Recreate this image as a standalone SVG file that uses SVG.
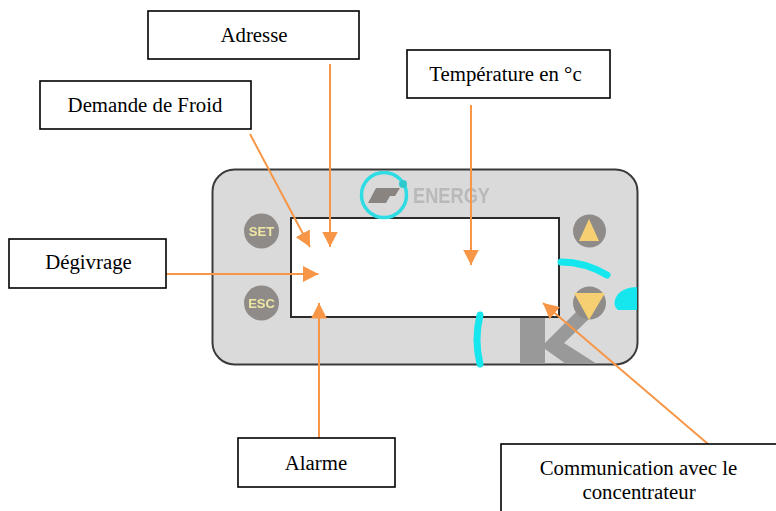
<svg xmlns="http://www.w3.org/2000/svg" width="776" height="511" viewBox="0 0 776 511">
<style>
.box{fill:#fff;stroke:#000;stroke-width:1.6}
.t{font-family:"Liberation Serif",serif;font-size:20.8px;fill:#000;text-anchor:middle}
.c{fill:none;stroke:#f79646;stroke-width:2}
.cy{fill:none;stroke:#19e6ee;stroke-width:7;stroke-linecap:round}
.btn{fill:#8f8b88}
.bt{font-family:"Liberation Sans",sans-serif;font-size:13px;font-weight:bold;fill:#efe6a4;text-anchor:middle}
</style>
<defs>
<marker id="a" markerUnits="userSpaceOnUse" markerWidth="17" markerHeight="16" refX="15.500" refY="8" orient="auto"><path d="M0 0L15.500 8L0 16Z" fill="#f79646"/></marker>
<filter id="b" x="-10%" y="-10%" width="120%" height="120%"><feGaussianBlur stdDeviation="0.7"/></filter>
</defs>
<rect width="776" height="511" fill="#fff"/>
<g id="panel">
<rect x="212.500" y="169.500" width="425" height="195" rx="22" fill="#dadada" stroke="#3a3a3a" stroke-width="2"/>
<rect x="291" y="218" width="268" height="99" fill="#fff" stroke="#2b2b2b" stroke-width="2"/>
<g filter="url(#b)">
<path d="M520 318H545V343L578 310L590 318L564 343L597 364H566L545 349V364H520Z" fill="#999"/>
<path d="M561 262Q585 262 607 275" class="cy"/>
<path d="M480 315Q474 340 480 364" class="cy"/>
<path d="M618 294Q625 287 637 287V310H618Q611 304 618 294Z" fill="#19e6ee"/>
<circle cx="384" cy="195" r="22.500" fill="none" stroke="#2fdde3" stroke-width="3.500"/>
<circle cx="403" cy="184" r="4" fill="#2fc9cf"/>
<path d="M376 188H400L395 196H390L386 203H368Z" fill="#8a8480"/>
<text x="451.500" y="203" font-family="Liberation Sans,sans-serif" font-size="22" font-weight="bold" fill="#b9b9b9" text-anchor="middle" textLength="77" lengthAdjust="spacingAndGlyphs">ENERGY</text>
</g>
</g>
<g id="btn-set" filter="url(#b)"><circle cx="261.500" cy="231" r="17.500" class="btn"/><text x="261.500" y="236" class="bt">SET</text></g>
<g id="btn-esc" filter="url(#b)"><circle cx="261.500" cy="303" r="17.500" class="btn"/><text x="261.500" y="308" class="bt">ESC</text></g>
<g id="btn-up" filter="url(#b)"><circle cx="589.500" cy="231" r="16.500" class="btn"/><path d="M589 219L599 241H579Z" fill="#f5cf72"/></g>
<g id="btn-down" filter="url(#b)"><circle cx="589.500" cy="303" r="16.500" class="btn"/><path d="M574 293H605L589 320Z" fill="#f5cf72"/></g>
<g id="connectors">
<path class="c" d="M330 64V247" marker-end="url(#a)"/>
<path class="c" d="M250 134L310 247" marker-end="url(#a)"/>
<path class="c" d="M471 105V265" marker-end="url(#a)"/>
<path class="c" d="M165 274H318.500" marker-end="url(#a)"/>
<path class="c" d="M319 438V303" marker-end="url(#a)"/>
<path class="c" d="M708 444L543 303" marker-end="url(#a)"/>
</g>
<g id="adresse"><rect x="148" y="11" width="211" height="48" class="box"/><text x="254" y="42" class="t">Adresse</text></g>
<g id="temperature"><rect x="407" y="50" width="203" height="48" class="box"/><text x="505.500" y="81" class="t">Température en °c</text></g>
<g id="demande"><rect x="40" y="81" width="211" height="48" class="box"/><text x="145" y="112" class="t">Demande de Froid</text></g>
<g id="degivrage"><rect x="9" y="239" width="157" height="49" class="box"/><text x="88.500" y="269" class="t">Dégivrage</text></g>
<g id="alarme"><rect x="238" y="438" width="157" height="49" class="box"/><text x="316" y="470" class="t">Alarme</text></g>
<g id="communication"><rect x="501" y="444" width="276" height="68" class="box"/><text x="638.500" y="475" class="t">Communication avec le</text><text x="639" y="499" class="t">concentrateur</text></g>
</svg>
